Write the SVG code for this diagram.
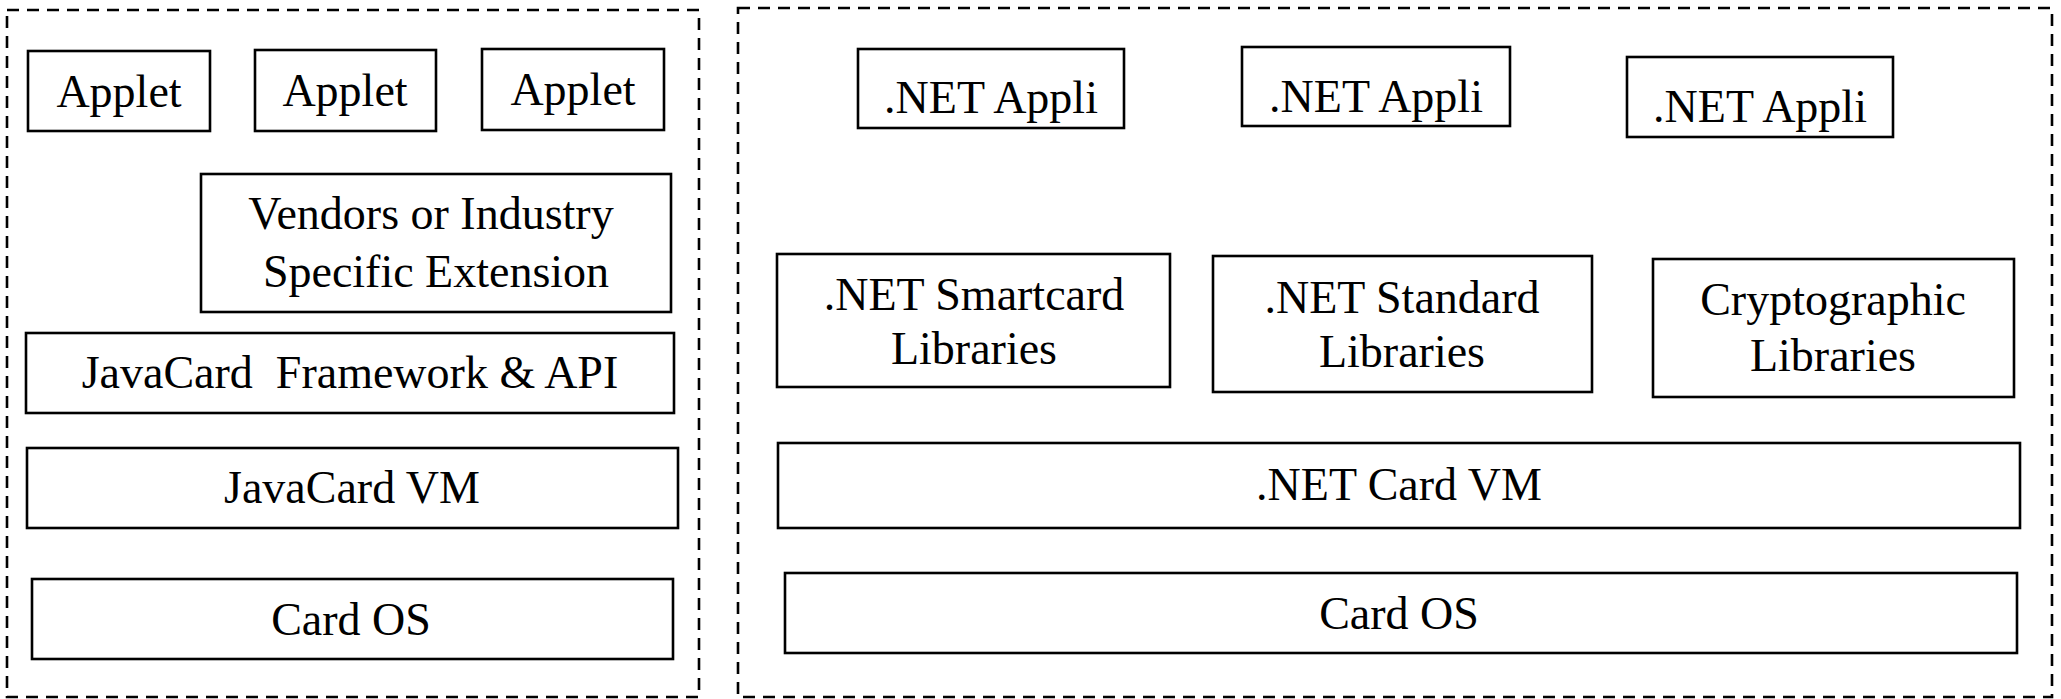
<svg xmlns="http://www.w3.org/2000/svg" width="2061" height="699" viewBox="0 0 2061 699">
<style>
.bg{fill:#ffffff}
.frame{fill:none;stroke:#000;stroke-width:2.6;stroke-dasharray:12 8}
.box{fill:#fff;stroke:#000;stroke-width:2.6}
.t{font-family:"Liberation Serif","Times New Roman",serif;font-size:46px;fill:#000;text-anchor:middle;white-space:pre}
</style>
<rect class="bg" x="0" y="0" width="2061" height="699"/>
<g id="frames">
<rect id="javacard-frame" class="frame" x="7" y="10" width="692" height="687"/>
<rect id="dotnet-frame" class="frame" x="738" y="8" width="1314" height="689"/>
</g>
<g id="connectors"></g>
<g id="applet1"><rect class="box" x="28" y="51" width="182" height="80"/><text class="t" x="119" y="107">Applet</text></g>
<g id="applet2"><rect class="box" x="255" y="50" width="181" height="81"/><text class="t" x="345" y="106">Applet</text></g>
<g id="applet3"><rect class="box" x="482" y="49" width="182" height="81"/><text class="t" x="573" y="105">Applet</text></g>
<g id="vendors"><rect class="box" x="201" y="174" width="470" height="138"/><text class="t" x="431" y="229">Vendors or Industry</text><text class="t" x="436" y="287">Specific Extension</text></g>
<g id="jc-framework"><rect class="box" x="26" y="333" width="648" height="80"/><text class="t" x="350" y="388" xml:space="preserve">JavaCard  Framework &amp; API</text></g>
<g id="jc-vm"><rect class="box" x="27" y="448" width="651" height="80"/><text class="t" x="352" y="503">JavaCard VM</text></g>
<g id="jc-os"><rect class="box" x="32" y="579" width="641" height="80"/><text class="t" x="351" y="635">Card OS</text></g>
<g id="net-appli1"><rect class="box" x="858" y="49" width="266" height="79"/><text class="t" x="991" y="113">.NET Appli</text></g>
<g id="net-appli2"><rect class="box" x="1242" y="47" width="268" height="79"/><text class="t" x="1376" y="112">.NET Appli</text></g>
<g id="net-appli3"><rect class="box" x="1627" y="57" width="266" height="80"/><text class="t" x="1760" y="122">.NET Appli</text></g>
<g id="net-smartcard"><rect class="box" x="777" y="254" width="393" height="133"/><text class="t" x="974" y="310">.NET Smartcard</text><text class="t" x="974" y="364">Libraries</text></g>
<g id="net-standard"><rect class="box" x="1213" y="256" width="379" height="136"/><text class="t" x="1402" y="313">.NET Standard</text><text class="t" x="1402" y="367">Libraries</text></g>
<g id="crypto"><rect class="box" x="1653" y="259" width="361" height="138"/><text class="t" x="1833" y="315">Cryptographic</text><text class="t" x="1833" y="371">Libraries</text></g>
<g id="net-vm"><rect class="box" x="778" y="443" width="1242" height="85"/><text class="t" x="1399" y="500">.NET Card VM</text></g>
<g id="net-os"><rect class="box" x="785" y="573" width="1232" height="80"/><text class="t" x="1399" y="629">Card OS</text></g>
</svg>
